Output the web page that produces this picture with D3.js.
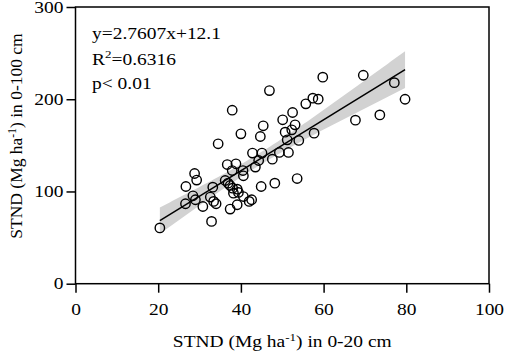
<!DOCTYPE html>
<html>
<head>
<meta charset="utf-8">
<script src="https://cdn.jsdelivr.net/npm/d3@7"></script>
<style>
  body { margin: 0; background: #fff; }
  text { font-family: "Liberation Serif", "Times New Roman", serif; }
</style>
</head>
<body>
<svg width="505" height="355"></svg>
<script>
// STND 0-20 cm (x) vs 0-100 cm (y)
var xVals = [20.4, 26.6, 26.7, 28.8, 29.3, 28.4, 29.0, 30.8, 32.9, 32.6,
             33.4, 34.0, 33.2, 34.5, 36.7, 38.8, 37.9, 36.2, 36.9, 37.4,
             38.0, 39.1, 38.2, 37.4, 39.1, 40.6, 40.5, 40.6, 40.0, 42.8,
             42.0, 42.6, 43.5, 44.3, 45.1, 44.9, 44.7, 47.6, 48.2, 37.9,
             46.9, 59.8, 45.4, 50.1, 52.5, 53.1, 52.3, 50.7, 51.2, 54.0,
             57.7, 55.7, 57.4, 58.7, 49.3, 51.5, 53.6, 69.6, 77.1, 79.7,
             73.6, 67.7, 39.4];
var yVals = [60.5, 86.7, 105.4, 119.5, 112.3, 95.3, 91.0, 83.7, 67.5, 93.9,
             89.2, 86.7, 104.7, 151.7, 129.2, 130.0, 122.7, 111.9, 109.0, 106.5,
             103.6, 102.5, 98.2, 80.9, 85.6, 94.5, 122.7, 117.0, 162.5, 141.6,
             89.2, 91.0, 126.4, 133.6, 141.6, 105.4, 159.6, 135.0, 109.0, 188.1,
             209.4, 223.9, 171.2, 177.7, 185.6, 172.2, 166.8, 164.3, 156.0, 155.3,
             163.2, 195.0, 201.2, 200.1, 142.3, 142.3, 114.0, 226.0, 218.0, 200.0,
             183.0, 177.3, 99.0];
var xTicks = [0, 20, 40, 60, 80, 100];
var yTicks = [0, 100, 200, 300];
var slope = 2.7607, intercept = 12.1;
var statLines = ["y=2.7607x+12.1", "R2=0.6316", "p< 0.01"];

var svg = d3.select("svg");
var pLeft = 75.5, pRight = 489, pTop = 7, pBottom = 283.7;
var sx = 1.18;   // the source glyphs are a little wider than Liberation Serif
var fs = 16.5;

var x = d3.scaleLinear().domain([0, 100]).range([pLeft, pRight]);
var y = d3.scaleLinear().domain([0, 300]).range([pBottom, pTop]);

var pts = xVals.map(function (d, i) { return { x: d, y: yVals[i] }; });

// 95% confidence band of the fitted mean
var n = pts.length;
var xbar = d3.mean(xVals);
var sxx = d3.sum(xVals, function (d) { return (d - xbar) * (d - xbar); });
var sse = d3.sum(pts, function (d) {
    var r = d.y - (slope * d.x + intercept);
    return r * r;
});
var s = Math.sqrt(sse / (n - 2));
var x0 = d3.min(xVals), x1 = d3.max(xVals);
var band = d3.range(0, 101).map(function (i) {
    var xx = x0 + (x1 - x0) * i / 100;
    var hw = 2.0 * s * Math.sqrt(1 / n + (xx - xbar) * (xx - xbar) / sxx);
    var yy = slope * xx + intercept;
    return { x: xx, lo: yy - hw, hi: yy + hw };
});

svg.append("path")
    .datum(band)
    .attr("fill", "#d2d2d2")
    .attr("d", d3.area()
        .x(function (d) { return x(d.x); })
        .y0(function (d) { return y(d.lo); })
        .y1(function (d) { return y(d.hi); }));

svg.append("line")
    .attr("x1", x(x0)).attr("y1", y(slope * x0 + intercept))
    .attr("x2", x(x1)).attr("y2", y(slope * x1 + intercept))
    .attr("stroke", "#000")
    .attr("stroke-width", 1.5);

svg.selectAll(".pt")
    .data(pts)
    .enter().append("circle")
    .attr("class", "pt")
    .attr("cx", function (d) { return x(d.x); })
    .attr("cy", function (d) { return y(d.y); })
    .attr("r", 4.7)
    .attr("fill", "none")
    .attr("stroke", "#000")
    .attr("stroke-width", 1.4);

// frame
svg.append("rect")
    .attr("x", pLeft).attr("y", pTop)
    .attr("width", pRight - pLeft).attr("height", pBottom - pTop)
    .attr("fill", "none")
    .attr("stroke", "#000")
    .attr("stroke-width", 1.5);

// Axes
var xAxis = svg.append("g")
    .attr("transform", "translate(0," + pBottom + ")")
    .call(d3.axisBottom(x).tickValues(xTicks).tickSize(9).tickPadding(11));
var yAxis = svg.append("g")
    .attr("transform", "translate(" + pLeft + ",0)")
    .call(d3.axisLeft(y).tickValues(yTicks).tickSize(9).tickPadding(3));
[xAxis, yAxis].forEach(function (a) {
    a.select(".domain").remove();
    a.selectAll("line").attr("stroke", "#000").attr("stroke-width", 1.5);
    a.selectAll("text")
        .attr("fill", "#000")
        .style("font-family", "'Liberation Serif', serif")
        .attr("font-size", fs + "px");
});
yAxis.selectAll("text").attr("x", -12 / sx).attr("transform", "scale(" + sx + ",1)");
xAxis.selectAll("text").attr("transform", "scale(" + sx + ",1)");

// Axis titles
var xt = svg.append("text")
    .attr("transform", "translate(" + (pLeft + pRight) / 2 + ",347) scale(" + sx + ",1)")
    .attr("text-anchor", "middle")
    .attr("font-size", fs + "px");
xt.append("tspan").text("STND (Mg ha");
xt.append("tspan").attr("dy", -6).attr("font-size", "11px").text("-1");
xt.append("tspan").attr("dy", 6).text(") in 0-20 cm");

var yt = svg.append("text")
    .attr("transform", "translate(22," + 136 + ") rotate(-90)")
    .attr("text-anchor", "middle")
    .attr("font-size", "17.5px");
yt.append("tspan").text("STND (Mg ha");
yt.append("tspan").attr("dy", -6).attr("font-size", "11.5px").text("-1");
yt.append("tspan").attr("dy", 6).text(") in 0-100 cm");

// Stats
var st = svg.append("g").attr("font-size", fs + "px");
st.append("text").attr("transform", "translate(92,39) scale(" + sx + ",1)").text(statLines[0]);
var r2 = st.append("text").attr("transform", "translate(92,65) scale(" + sx + ",1)");
r2.append("tspan").text("R");
r2.append("tspan").attr("dy", -7).attr("font-size", "11px").text("2");
r2.append("tspan").attr("dy", 7).text("=0.6316");
st.append("text").attr("transform", "translate(92,89) scale(" + sx + ",1)").text(statLines[2]);
</script>
</body>
</html>
